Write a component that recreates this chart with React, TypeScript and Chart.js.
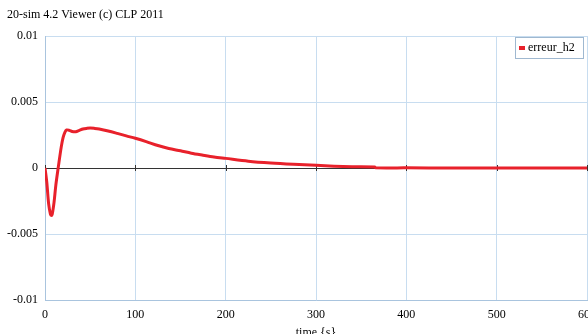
import React, { useEffect, useRef } from "react";
import { Chart, registerables } from "chart.js";

Chart.register(...registerables);

const TITLE = "20-sim 4.2 Viewer (c) CLP 2011";
const SERIES_LABEL = "erreur_h2";
const X_LABEL = "time {s}";

const timeValues = [
  0, 2, 4, 6, 7, 8, 10, 12, 15, 18, 20, 22, 24, 27, 30, 34, 38, 42, 46, 50,
  55, 60, 70, 80, 90, 100, 112, 125, 137, 150, 162, 175, 187, 200, 225, 250,
  275, 300, 320, 340, 365, 366, 400, 450, 500, 550, 600,
];
const errorValues = [
  0, -0.0011, -0.0027, -0.0035, -0.0036, -0.0035, -0.0026, -0.0013, 0.0002,
  0.0016, 0.0023, 0.0027, 0.00288, 0.00285, 0.00277, 0.00275, 0.00285,
  0.00295, 0.003, 0.00303, 0.003, 0.00295, 0.0028, 0.00262, 0.00243, 0.00225,
  0.002, 0.0017, 0.00148, 0.0013, 0.00112, 0.00097, 0.00084, 0.00073, 0.00052,
  0.00038, 0.00028, 0.0002, 0.00014, 0.0001, 0.00008, 0.00002, 0.00001, 0, 0,
  0, 0,
];

const xTicks = [0, 100, 200, 300, 400, 500, 600];
const yTicks = [-0.01, -0.005, 0, 0.005, 0.01];

const SERIF = "'Liberation Serif', 'Times New Roman', serif";

export default function App() {
  const ref = useRef<HTMLCanvasElement | null>(null);

  useEffect(() => {
    if (!ref.current) return;
    const decor = {
      id: "decor",
      beforeDatasetsDraw(chart: any) {
        const { ctx, scales, chartArea } = chart;
        const y0 = scales.y.getPixelForValue(0);
        ctx.save();
        ctx.strokeStyle = "#333333";
        ctx.lineWidth = 1;
        ctx.beginPath();
        ctx.moveTo(chartArea.left, Math.round(y0) + 0.5);
        ctx.lineTo(chartArea.right, Math.round(y0) + 0.5);
        xTicks.forEach((t) => {
          const px = Math.round(scales.x.getPixelForValue(t)) + 0.5;
          ctx.moveTo(px, y0 - 3);
          ctx.lineTo(px, y0 + 3);
        });
        ctx.stroke();
        ctx.restore();
      },
      afterDraw(chart: any) {
        const { ctx } = chart;
        ctx.save();
        ctx.fillStyle = "#000";
        ctx.font = `12px ${SERIF}`;
        ctx.textBaseline = "middle";
        ctx.textAlign = "left";
        ctx.fillText(TITLE, 7, 15);
        // legend
        const ds = chart.data.datasets[0];
        const bx = 515.5, by = 37.5, bw = 68, bh = 21;
        ctx.fillStyle = "#ffffff";
        ctx.fillRect(bx, by, bw, bh);
        ctx.strokeStyle = "#9fb8d0";
        ctx.lineWidth = 1;
        ctx.strokeRect(bx, by, bw, bh);
        ctx.fillStyle = ds.borderColor;
        ctx.fillRect(519, 46, 6, 4);
        ctx.fillStyle = "#000";
        ctx.fillText(ds.label, 528, 48);
        ctx.restore();
      },
    };

    const chart = new Chart(ref.current, {
      type: "line",
      data: {
        datasets: [
          {
            label: SERIES_LABEL,
            data: timeValues.map((t, i) => ({ x: t, y: errorValues[i] })),
            borderColor: "#e8212b",
            borderWidth: 3,
            pointRadius: 0,
            tension: 0.3,
            fill: false,
          },
        ],
      },
      options: {
        animation: false,
        responsive: false,
        layout: { padding: { top: 36, right: 1, left: 0, bottom: 0 } },
        plugins: {
          legend: { display: false },
          tooltip: { enabled: false },
        },
        scales: {
          x: {
            type: "linear",
            min: 0,
            max: 600,
            afterBuildTicks(scale: any) {
              scale.ticks = xTicks.map((v) => ({ value: v }));
            },
            afterFit(scale: any) {
              scale.height = 34;
              scale.paddingLeft = 0;
              scale.paddingRight = 0;
            },
            grid: { color: "#c8ddf0", drawTicks: false, lineWidth: 1 },
            border: { color: "#a9c4de" },
            ticks: {
              padding: 8,
              color: "#000",
              font: { family: SERIF, size: 12 },
              maxRotation: 0,
              autoSkip: false,
            },
            title: {
              display: true,
              text: X_LABEL,
              color: "#000",
              font: { family: SERIF, size: 12 },
              padding: { top: 0, bottom: -6 },
            },
          },
          y: {
            type: "linear",
            min: -0.01,
            max: 0.01,
            afterBuildTicks(scale: any) {
              scale.ticks = yTicks.map((v) => ({ value: v }));
            },
            afterFit(scale: any) {
              scale.width = 45;
              scale.paddingTop = 0;
              scale.paddingBottom = 0;
            },
            grid: { color: "#c8ddf0", drawTicks: false, lineWidth: 1 },
            border: { color: "#a9c4de" },
            ticks: {
              padding: 7,
              color: "#000",
              font: { family: SERIF, size: 12 },
              callback: (v: any) => String(Number(v)),
            },
          },
        },
      },
      plugins: [decor],
    });
    return () => chart.destroy();
  }, []);

  return (
    <div style={{ position: "fixed", left: 0, top: 0, width: 588, height: 334, background: "#fff" }}>
      <canvas ref={ref} width={588} height={334} style={{ display: "block" }} />
    </div>
  );
}
